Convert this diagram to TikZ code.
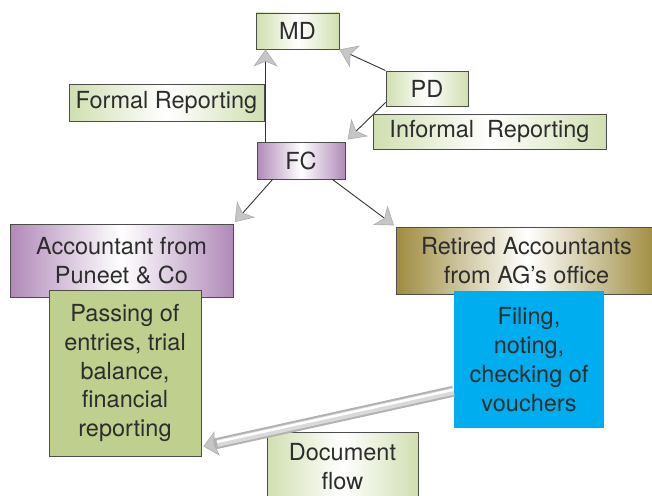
\documentclass[tikz,border=0pt]{standalone}
\usepackage{fontspec}
\setmainfont{TeX Gyre Heros}
\usetikzlibrary{arrows.meta,calc}

\definecolor{boxgreen}{RGB}{208,223,176}
\definecolor{boxpurple}{RGB}{176,138,184}
\definecolor{boxolive}{RGB}{158,140,62}
\definecolor{taskgreen}{RGB}{190,207,142}
\definecolor{taskcyan}{RGB}{0,173,239}
\definecolor{inktext}{RGB}{45,45,45}

\tikzset{
  box/.style={draw=black!70, line width=0.9pt, inner sep=0pt, align=center,
    text=inktext, font=\fontsize{23.5}{28.8}\selectfont},
  greenbox/.style={box, left color=boxgreen, right color=boxgreen, middle color=white},
  purplebox/.style={box, left color=boxpurple, right color=boxpurple, middle color=white},
  olivebox/.style={box, left color=boxolive, right color=boxolive, middle color=white},
  taskbox/.style={box, fill=taskgreen},
  bluebox/.style={box, draw=none, fill=taskcyan},
  link/.style={draw=black!80, line width=0.9pt,
    -{Stealth[length=17pt, width=24pt, inset=5pt, line width=0.6pt, fill=gray!45, color=gray!65]}},
}

\begin{document}
\begin{tikzpicture}[x=1pt, y=-1pt]
  \useasboundingbox (0,0) rectangle (652,495);
  \clip (0,0) rectangle (652,495);

  % reporting line boxes
  \node[greenbox, minimum width=83pt, minimum height=36pt] (md) at (297.5,31) {MD};
  \node[greenbox, minimum width=82pt, minimum height=35pt] (pd) at (427,88.5) {PD};
  \node[greenbox, minimum width=195pt, minimum height=37pt] (formal) at (166.5,102.5) {Formal Reporting};
  \node[purplebox, minimum width=88pt, minimum height=37pt] (fc) at (301,160.5) {FC};

  % accounting teams and their tasks
  \node[purplebox, minimum width=223pt, minimum height=73pt] (acct) at (121.5,260.5)
    {Accountant from\\Puneet \& Co};
  \node[taskbox, minimum width=152pt, minimum height=166pt] (passing) at (125,373)
    {Passing of\\entries, trial\\balance,\\financial\\reporting};
  \node[olivebox, minimum width=261pt, minimum height=67pt] (retired) at (526.5,260.5)
    {Retired Accountants\\from AG’s office};
  \node[bluebox, minimum width=150pt, minimum height=137pt] (filing) at (529,359.5)
    {Filing,\\noting,\\checking of\\vouchers};
  \node[greenbox, minimum width=151pt, minimum height=70pt] (docflow) at (342.5,467)
    {Document\\flow};

  % reporting connectors
  \draw[link] ([xshift=9pt]fc.north west) -- ([xshift=10pt]md.south west);
  \draw[link] (pd.north west) -- (md.south east);
  \draw[link, shorten >=3pt] ([yshift=4pt]pd.south west) -- (fc.north east);
  \node[greenbox, minimum width=233pt, minimum height=35pt] (informal) at (489.5,131.5)
    {Informal~~Reporting};
  \draw[link, shorten >=2pt] ([xshift=16pt]fc.south west) -- (acct.north east);
  \draw[link, shorten >=2pt] ([xshift=-13pt]fc.south east) -- (retired.north west);

  % document flow tube
  \coordinate (tubeS) at ($(filing.south west)!0.27!(filing.north west)$);
  \coordinate (tubeE) at ($(passing.south east)!0.06!(passing.north east)$);
  \draw[line width=11pt, draw=gray!60,
    -{Stealth[length=14pt, width=25pt, inset=3pt, line width=0.6pt, fill=gray!45, color=gray!65]}]
    (tubeS) -- ([xshift=2pt]tubeE);
  \draw[line width=7pt, draw=gray!30, shorten >=14pt] (tubeS) -- ([xshift=2pt]tubeE);
  \draw[line width=2.5pt, draw=white, shorten >=14pt]
    ([yshift=1.5pt]tubeS) -- ([xshift=2pt, yshift=1.5pt]tubeE);
\end{tikzpicture}
\end{document}
